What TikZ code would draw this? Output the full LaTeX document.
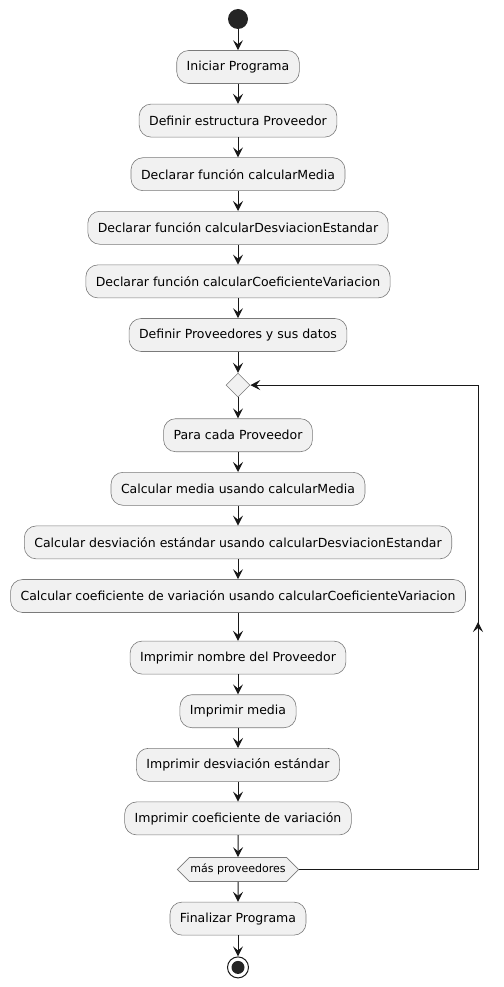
\documentclass[tikz,border=0pt]{standalone}
\usepackage{fontspec}
\setmainfont{DejaVu Sans}
\usepackage{tikz}
\usetikzlibrary{shapes.geometric, shapes.symbols, arrows.meta, positioning, calc}
\definecolor{actfill}{HTML}{F1F1F1}
\definecolor{actline}{HTML}{181818}
\definecolor{actborder}{HTML}{7A7A7A}
\tikzset{
  actbox/.style={rectangle, draw=actborder, line width=0.6pt, fill=actfill, rounded corners=12pt, minimum height=33pt, inner xsep=10pt, font=\fontsize{12.5}{14}\selectfont},
  startdot/.style={circle, fill=actline!95, minimum size=20pt, inner sep=0pt},
  stopdot/.style={circle, draw=actline, line width=1pt, fill=white, minimum size=21pt, inner sep=0pt, path picture={\fill[actline!95] (path picture bounding box.center) circle (6.5pt);}},
  mergebox/.style={diamond, draw=actborder, line width=0.6pt, fill=actfill, minimum width=24pt, minimum height=24pt, inner sep=0pt},
  loopbox/.style={signal, signal to=west and east, signal pointer angle=90, draw=actborder, line width=0.6pt, fill=actfill, minimum height=24pt, inner xsep=1pt, inner ysep=0pt, font=\fontsize{11}{13}\selectfont},
  arr/.style={-{Stealth[length=10pt, width=10pt, inset=4pt]}, line width=1pt, draw=actline},
  line/.style={line width=1pt, draw=actline},
}

\begin{document}
\begin{tikzpicture}[node distance=20pt]
  \useasboundingbox (0,0) rectangle (503pt,-987pt);

  % Inicio
  \node[startdot] (start) at (238pt,-19pt) {};
  \node[actbox, below=21pt of start] (init) {Iniciar Programa};
  \node[actbox, below=of init] (struct) {Definir estructura Proveedor};
  \node[actbox, below=of struct] (fmedia) {Declarar función calcularMedia};
  \node[actbox, below=of fmedia] (fdesv) {Declarar función calcularDesviacionEstandar};
  \node[actbox, below=of fdesv] (fcoef) {Declarar función calcularCoeficienteVariacion};
  \node[actbox, below=of fcoef] (datos) {Definir Proveedores y sus datos};

  % Bucle
  \node[mergebox, below=21pt of datos] (merge) {};
  \node[actbox, below=21pt of merge] (cada) {Para cada Proveedor};
  \node[actbox, below=of cada] (cmedia) {Calcular media usando calcularMedia};
  \node[actbox, below=of cmedia] (cdesv) {Calcular desviación estándar usando calcularDesviacionEstandar};
  \node[actbox, below=of cdesv] (ccoef) {Calcular coeficiente de variación usando calcularCoeficienteVariacion};
  \node[actbox, below=28pt of ccoef] (pnombre) {Imprimir nombre del Proveedor};
  \node[actbox, below=of pnombre] (pmedia) {Imprimir media};
  \node[actbox, below=of pmedia] (pdesv) {Imprimir desviación estándar};
  \node[actbox, below=of pdesv] (pcoef) {Imprimir coeficiente de variación};
  \node[loopbox, below=22pt of pcoef] (more) {más proveedores};

  % Fin
  \node[actbox, below=of more] (fin) {Finalizar Programa};
  \node[stopdot, below=21pt of fin] (stop) {};

  \foreach \a/\b in {start/init, init/struct, struct/fmedia, fmedia/fdesv, fdesv/fcoef, fcoef/datos, datos/merge, merge/cada, cada/cmedia, cmedia/cdesv, cdesv/ccoef, ccoef/pnombre, pnombre/pmedia, pmedia/pdesv, pdesv/pcoef, pcoef/more, more/fin, fin/stop}
    \draw[arr] (\a) -- (\b);

  % retorno
  \coordinate (loopx) at (478pt,0);
  \coordinate (midup) at (478pt,-622pt);
  \draw[line] (more.east) -- (more.east -| loopx) -- (merge.east -| loopx);
  \draw[arr] (more.east -| loopx) -- (midup);
  \draw[arr] (merge.east -| loopx) -- (merge.east);
\end{tikzpicture}
\end{document}
